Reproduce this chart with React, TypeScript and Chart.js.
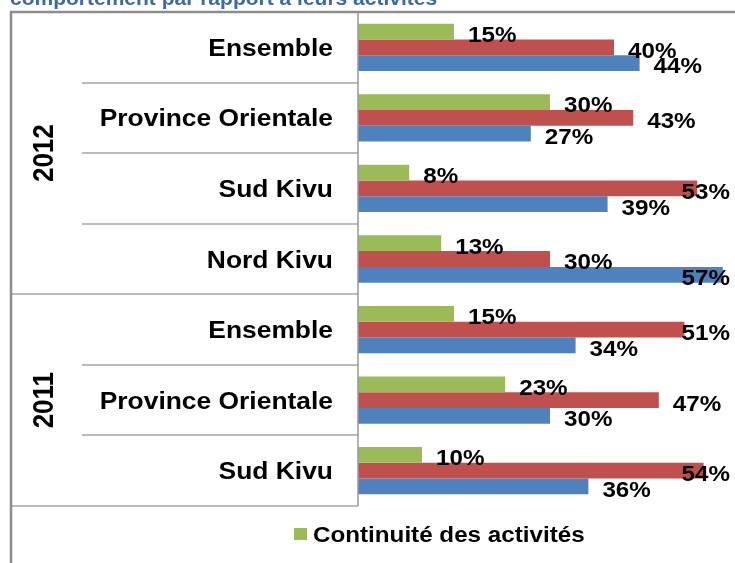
import React, { useEffect, useRef } from "react";
import { Chart, registerables } from "chart.js";

Chart.register(...registerables);

const titleText = "comportement par rapport à leurs activités";
const categories = [
  "Ensemble",
  "Province Orientale",
  "Sud Kivu",
  "Nord Kivu",
  "Ensemble",
  "Province Orientale",
  "Sud Kivu",
];
const years = ["2012", "2012", "2012", "2012", "2011", "2011", "2011"];
const continuite = [15, 30, 8, 13, 15, 23, 10];
const serie2 = [40, 43, 53, 30, 51, 47, 54];
const serie3 = [44, 27, 39, 57, 34, 30, 36];
const seriesLabels = ["Continuité des activités", "Série 2", "Série 3"];
const seriesColors = ["#9BBB59", "#C0504D", "#4F81BD"];

const FONT = '"Liberation Sans", Arial, sans-serif';
const SX = 1.1;

function stretchedText(
  ctx: CanvasRenderingContext2D,
  text: string,
  x: number,
  y: number,
  align: CanvasTextAlign,
  size: number,
  sx: number = SX
) {
  ctx.save();
  ctx.font = `bold ${size}px ${FONT}`;
  ctx.textAlign = align;
  ctx.textBaseline = "alphabetic";
  ctx.translate(x, y);
  ctx.scale(sx, 1);
  ctx.fillText(text, 0, 0);
  ctx.restore();
}

const decorPlugin = {
  id: "decor",
  afterDatasetsDraw(chart: any) {
    const ctx: CanvasRenderingContext2D = chart.ctx;
    const area = chart.chartArea;
    const yScale = chart.scales.y;
    const n = categories.length;
    const left = 11;
    const innerLeft = 82;
    const axisX = area.left;

    ctx.save();
    // row separators
    ctx.strokeStyle = "#a6a6a6";
    ctx.lineWidth = 1.5;
    for (let i = 1; i < n; i++) {
      const yb = Math.round(yScale.getPixelForValue(i - 0.5));
      const groupBreak = years[i] !== years[i - 1];
      ctx.beginPath();
      ctx.moveTo(groupBreak ? left : innerLeft, yb);
      ctx.lineTo(axisX, yb);
      ctx.stroke();
    }
    // bottom line of label table
    ctx.beginPath();
    ctx.moveTo(left, area.bottom);
    ctx.lineTo(axisX, area.bottom);
    ctx.stroke();
    // vertical axis
    ctx.strokeStyle = "#999999";
    ctx.beginPath();
    ctx.moveTo(axisX, area.top);
    ctx.lineTo(axisX, area.bottom);
    ctx.stroke();
    // outer border
    ctx.strokeStyle = "#8c8c8c";
    ctx.lineWidth = 2.5;
    ctx.beginPath();
    ctx.moveTo(left, chart.height);
    ctx.lineTo(left, area.top);
    ctx.lineTo(chart.width, area.top);
    ctx.stroke();

    ctx.fillStyle = "#000";
    // category labels
    for (let i = 0; i < n; i++) {
      const cy = yScale.getPixelForValue(i);
      stretchedText(ctx, categories[i], 333, cy + 0.358 * 24, "right", 24);
    }
    // year labels
    let start = 0;
    for (let i = 1; i <= n; i++) {
      if (i === n || years[i] !== years[start]) {
        const top = yScale.getPixelForValue(start - 0.5);
        const bot = yScale.getPixelForValue(i - 1 + 0.5);
        const cy = (top + bot) / 2;
        ctx.save();
        ctx.font = `bold 26px ${FONT}`;
        ctx.textAlign = "center";
        ctx.textBaseline = "alphabetic";
        ctx.translate(43, cy);
        ctx.scale(SX, 1);
        ctx.rotate(-Math.PI / 2);
        ctx.fillText(years[start], 0, 0.358 * 26);
        ctx.restore();
        start = i;
      }
    }
    // data labels
    chart.data.datasets.forEach((ds: any, di: number) => {
      const meta = chart.getDatasetMeta(di);
      meta.data.forEach((bar: any, j: number) => {
        const text = `${ds.data[j]}%`;
        ctx.font = `bold 22px ${FONT}`;
        const w = ctx.measureText(text).width * SX;
        let lx = bar.x + 14;
        if (lx + w > 730) lx = 730 - w;
        stretchedText(ctx, text, lx, bar.y + 2.5 + 0.358 * 22, "left", 22);
      });
    });
    // legend (first series)
    ctx.fillStyle = seriesColors[0];
    ctx.fillRect(294, 528, 13, 12);
    ctx.fillStyle = "#000";
    stretchedText(ctx, seriesLabels[0], 313, 542.4, "left", 22);
    // title (cut off at the top)
    ctx.fillStyle = "#3C6AA6";
    ctx.font = `bold 21px ${FONT}`;
    ctx.textAlign = "left";
    ctx.textBaseline = "alphabetic";
    ctx.fillText(titleText, 10, 5);
    ctx.restore();
  },
};

export default function App() {
  const ref = useRef<HTMLCanvasElement | null>(null);
  useEffect(() => {
    if (!ref.current) return;
    const chart = new Chart(ref.current, {
      type: "bar",
      data: {
        labels: categories,
        datasets: [
          { label: seriesLabels[0], data: continuite, backgroundColor: seriesColors[0] },
          { label: seriesLabels[1], data: serie2, backgroundColor: seriesColors[1] },
          { label: seriesLabels[2], data: serie3, backgroundColor: seriesColors[2] },
        ],
      },
      options: {
        indexAxis: "y",
        responsive: false,
        animation: false,
        devicePixelRatio: 1,
        layout: { padding: { left: 358, top: 12, right: 8, bottom: 57 } },
        datasets: { bar: { categoryPercentage: 0.67, barPercentage: 1, borderWidth: 0 } },
        scales: {
          x: { display: false, min: 0, max: 60 },
          y: { display: false },
        },
        plugins: {
          legend: { display: false },
          tooltip: { enabled: false },
          title: { display: false },
        },
      } as any,
      plugins: [decorPlugin],
    });
    return () => chart.destroy();
  }, []);
  return (
    <div
      style={{
        position: "fixed",
        left: 0,
        top: 0,
        width: 735,
        height: 563,
        overflow: "hidden",
        background: "#fff",
      }}
    >
      <canvas ref={ref} width={750} height={563} style={{ display: "block" }} />
    </div>
  );
}
